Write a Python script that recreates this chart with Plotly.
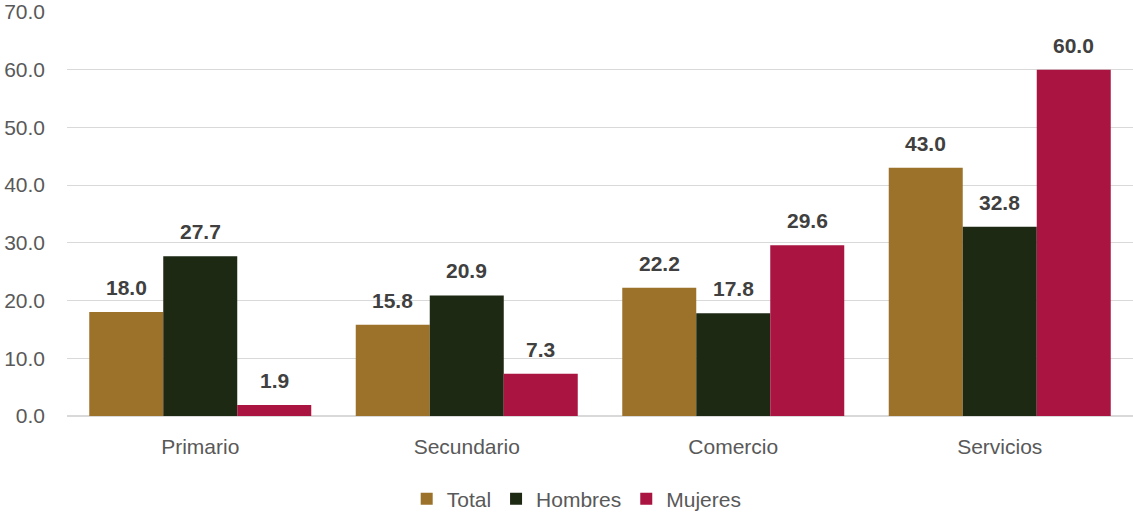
import plotly.graph_objects as go

categories = ["Primario", "Secundario", "Comercio", "Servicios"]
total = [18.0, 15.8, 22.2, 43.0]
hombres = [27.7, 20.9, 17.8, 32.8]
mujeres = [1.9, 7.3, 29.6, 60.0]
tick_vals = [0, 10, 20, 30, 40, 50, 60, 70]
tick_text = ["0.0", "10.0", "20.0", "30.0", "40.0", "50.0", "60.0", "70.0"]

series = [("Total", total, "#9C722B"), ("Hombres", hombres, "#1E2914"), ("Mujeres", mujeres, "#A91441")]

FONT = "Liberation Sans, Arial"
W, H = 1133, 515
ML, MR, MT, MB = 67, 0, 12, 99
BARGAP = 0.167
bar_px = (W - ML - MR) / len(categories) * (1 - BARGAP) / len(series)

fig = go.Figure()
for i, (name, vals, color) in enumerate(series):
    fig.add_trace(go.Bar(
        x=categories, y=vals, name=name, marker_color=color, marker_line_width=0,
    ))
    for c, v in zip(categories, vals):
        fig.add_annotation(
            x=c, y=v, xref="x", yref="y", text=f"<b>{v:.1f}</b>", showarrow=False,
            xanchor="center", yanchor="bottom", xshift=(i - 1) * bar_px, yshift=11,
            font=dict(size=21, color="#404040", family=FONT),
        )

fig.update_layout(
    width=W, height=H,
    margin=dict(l=ML, r=MR, t=MT, b=MB, autoexpand=False),
    paper_bgcolor="white", plot_bgcolor="white",
    barmode="group", bargap=BARGAP, bargroupgap=0,
    font=dict(family=FONT, size=21, color="#595959"),
    showlegend=True,
    legend=dict(orientation="h", x=0.509, xref="container", xanchor="center", y=0.031, yref="container", yanchor="middle",
                font=dict(size=21, color="#595959"), itemwidth=30, traceorder="normal"),
)
fig.update_yaxes(range=[0, 70], tickvals=tick_vals, ticktext=tick_text, showgrid=True, automargin=False,
                 gridcolor="#D9D9D9", gridwidth=1, zeroline=True, zerolinecolor="#D9D9D9", zerolinewidth=2,
                 showline=False, ticks="", ticklabelstandoff=21, tickfont=dict(size=21, color="#595959"))
fig.update_xaxes(showline=False, ticks="", automargin=False, tickfont=dict(size=21, color="#595959"), ticklabelstandoff=16)

fig.write_html("out.html", config={"displayModeBar": False},
               post_script="document.body.style.margin='0';document.body.style.overflow='hidden';")
